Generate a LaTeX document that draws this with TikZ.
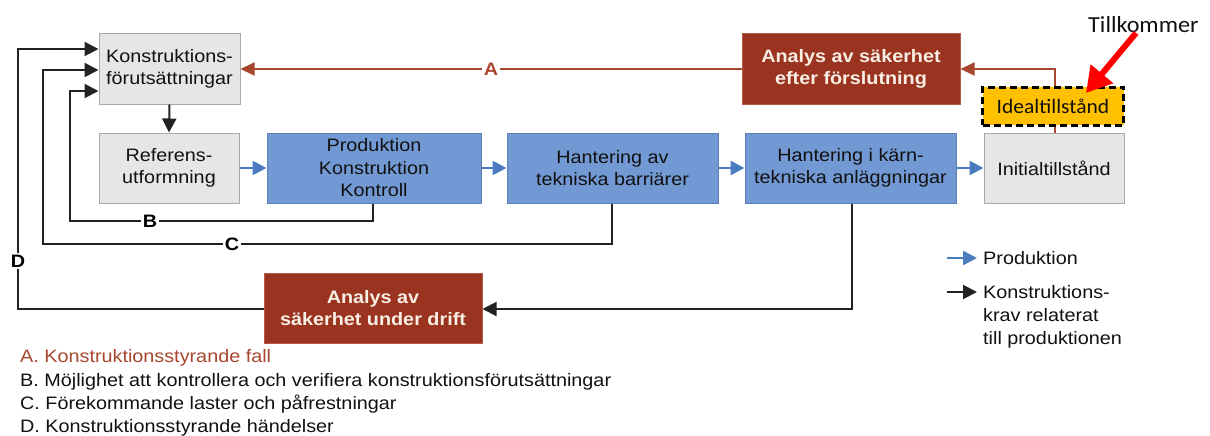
\documentclass[tikz,border=0pt]{standalone}
\usepackage{fontspec}
\setmainfont{Liberation Sans}[FakeStretch=1.1]
\newfontfamily\calfont{Carlito}[FakeStretch=1.05]
\usetikzlibrary{arrows.meta}
\definecolor{boxgray}{HTML}{E6E6E6}
\definecolor{graybord}{HTML}{A8A8A8}
\definecolor{bluefill}{HTML}{7299D3}
\definecolor{blueline}{HTML}{4A7CC0}
\definecolor{bluebord}{HTML}{5A7EB6}
\definecolor{darkred}{HTML}{9A3421}
\definecolor{redbord}{HTML}{B85A45}
\definecolor{redline}{HTML}{A8462E}
\definecolor{yel}{HTML}{FFC000}
\definecolor{txtdark}{HTML}{111111}
\definecolor{creamtxt}{HTML}{F8EEE4}
\definecolor{connk}{HTML}{222222}
\newcommand{\fsbox}{\fontsize{18}{22.5}\selectfont}
\tikzset{
  graybox/.style={draw=graybord, fill=boxgray, line width=1pt, minimum height=70pt, inner sep=0pt, align=center, font=\fsbox, text=txtdark},
  bluebox/.style={draw=bluebord, fill=bluefill, line width=1pt, minimum height=70pt, inner sep=0pt, align=center, font=\fsbox, text=txtdark},
  redbox/.style={draw=redbord, fill=darkred, line width=1pt, minimum height=70pt, inner sep=0pt, align=center, font=\fsbox\bfseries, text=creamtxt},
  blk/.style={draw=connk, line width=2pt, -{Triangle[length=14pt,width=14pt]}},
  blu/.style={draw=blueline, line width=2.5pt, -{Triangle[length=14pt,width=14pt]}},
  redarr/.style={draw=redline, line width=2pt, -{Triangle[length=14pt,width=13pt]}},
  lbl/.style={fill=white, inner sep=1.5pt, font=\fsbox\bfseries},
  legtxt/.style={anchor=base west, inner sep=0pt, font=\fontsize{18}{22.5}\selectfont, text=txtdark},
}
\begin{document}
\begin{tikzpicture}[x=1pt,y=-1pt]
\useasboundingbox[fill=white] (0,0) rectangle (1210,436);
% boxes
\node[graybox, minimum width=141pt] (kf) at (169.5,69) {Konstruktions-\\förutsättningar};
\node[graybox, minimum width=140pt] (ref) at (169,168) {Referens-\\utformning};
\node[bluebox, minimum width=214pt] (prod) at (374,168) {Produktion\\Konstruktion\\Kontroll};
\node[bluebox, minimum width=211pt] (hant) at (612.5,168) {Hantering av\\tekniska barriärer};
\node[bluebox, minimum width=211pt] (hk) at (850.5,168) {Hantering i kärn-\\tekniska anläggningar};
\node[graybox, minimum width=140pt] (init) at (1054,168) {Initialtillstånd};
\node[redbox, minimum width=218pt] (aef) at (851,69) {Analys av säkerhet\\efter förslutning};
\node[redbox, minimum width=218pt] (aud) at (373,308) {Analys av\\säkerhet under drift};
% red connectors
\draw[redarr] (init.north -| 1055,0) |- (aef.east);
\draw[redarr] (aef.west) -- node[lbl, text=redline, pos=0.5] (la) {A} (kf.east);
% ideal box on top of line
\node[draw=black, fill=yel, line width=3pt, dash pattern=on 7pt off 4pt, minimum width=141pt, minimum height=38pt, inner sep=0pt, font=\calfont\fontsize{20.5}{24}\selectfont, text=txtdark] (ideal) at (1053,106) {Idealtillstånd};
% black down arrow
\draw[blk] (kf.south) -- (ref.north);
% blue production arrows
\draw[blu] (ref.east) -- (prod.west);
\draw[blu] (prod.east) -- (hant.west);
\draw[blu] (hant.east) -- (hk.west);
\draw[blu] (hk.east) -- (init.west);
% B
\coordinate (b1) at (373,221);
\coordinate (b2) at (70,221);
\coordinate (b3) at (70,91);
\draw[blk] (prod.south -| b1) -- (b1) -- (b2) -- (b3) -- (kf.west |- b3);
\node[lbl] (lb) at (150,221) {B};
% C
\coordinate (c1) at (612,244);
\coordinate (c2) at (43,244);
\coordinate (c3) at (43,70);
\draw[blk] (hant.south -| c1) -- (c1) -- (c2) -- (c3) -- (kf.west |- c3);
\node[lbl] (lc) at (232,244) {C};
% D
\coordinate (d1) at (852,309);
\draw[blk] (hk.south -| d1) -- (d1) -- (aud.east |- d1);
\coordinate (d2) at (18,309);
\coordinate (d3) at (18,49);
\draw[blk] (aud.west |- d2) -- (d2) -- (d3) -- (kf.west |- d3);
\node[lbl] (ld) at (18,261) {D};
% Tillkommer
\node[inner sep=0pt, anchor=base west, font=\calfont\fontsize{23}{27}\selectfont, text=txtdark] (till) at (1088,33) {Tillkommer};
\coordinate (rtail) at (1136,33);
\draw[draw=red, line width=6pt, -{Triangle[length=25pt,width=28pt]}] (rtail) -- (1086,93);
% legend right
\coordinate (lp1) at (947,258);
\coordinate (lp2) at (977,258);
\draw[blu] (lp1) -- (lp2);
\node[legtxt] (lgp) at (983,264.5) {Produktion};
\coordinate (lk1) at (947,292);
\coordinate (lk2) at (977,292);
\draw[blk] (lk1) -- (lk2);
\node[legtxt] (lgk1) at (983,298.5) {Konstruktions-};
\node[legtxt] (lgk2) at (983,321.5) {krav relaterat};
\node[legtxt] (lgk3) at (983,344.5) {till produktionen};
% legend bottom
\node[legtxt, text=redline] (lga) at (20,362) {A. Konstruktionsstyrande fall};
\node[legtxt] (lgb) at (20,386) {B. Möjlighet att kontrollera och verifiera konstruktionsförutsättningar};
\node[legtxt] (lgc) at (20,409) {C. Förekommande laster och påfrestningar};
\node[legtxt] (lgd) at (20,432) {D. Konstruktionsstyrande händelser};
\end{tikzpicture}
\end{document}
